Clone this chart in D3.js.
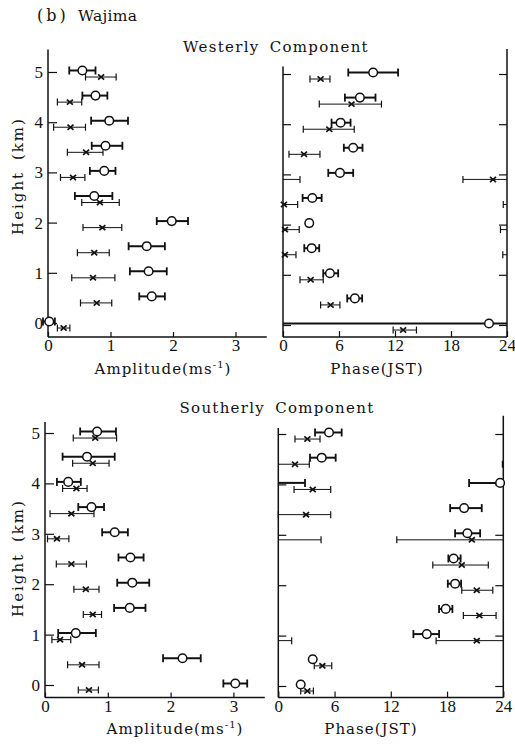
<!DOCTYPE html>
<html lang="en">
<head>
<meta charset="UTF-8">
<title>Wajima</title>
<script src="https://d3js.org/d3.v7.min.js"></script>
<style>
  body { margin: 0; background: #fff; }
  text { font-family: "DejaVu Serif", serif; fill: #111; }
</style>
</head>
<body>
<svg width="515" height="746"></svg>
<script>
// heights (km), same for every panel
const heights = [0, 0.5, 1, 1.5, 2, 2.5, 3, 3.5, 4, 4.5, 5];

// Westerly amplitude (m/s): circles and crosses, with error limits
const wAmpO   = [0.02, 1.66, 1.61, 1.58, 1.98, 0.74, 0.90, 0.92, 0.98, 0.76, 0.55];
const wAmpOLo = [-0.08, 1.46, 1.31, 1.29, 1.74, 0.43, 0.67, 0.70, 0.69, 0.55, 0.34];
const wAmpOHi = [0.11, 1.87, 1.90, 1.87, 2.24, 1.03, 1.08, 1.19, 1.28, 0.95, 0.76];
const wAmpX   = [0.25, 0.78, 0.72, 0.74, 0.87, 0.83, 0.40, 0.61, 0.36, 0.35, 0.85];
const wAmpXLo = [0.15, 0.52, 0.38, 0.47, 0.56, 0.54, 0.20, 0.31, 0.09, 0.15, 0.60];
const wAmpXHi = [0.35, 1.02, 1.07, 0.98, 1.18, 1.14, 0.59, 0.88, 0.60, 0.54, 1.09];

// Westerly phase (JST hours), limits may run past 0 or 24 and wrap
const wPhO   = [22.07, 7.7, 5.03, 3.07, 2.81, 3.14, 6.1, 7.52, 6.17, 8.24, 9.66];
const wPhOLo = [10, 6.88, 4.31, 2.28, 2.55, 2.1, 4.85, 6.52, 5.2, 6.63, 6.99];
const wPhOHi = [34, 8.48, 5.91, 3.88, 3.05, 4.14, 7.52, 8.52, 7.24, 9.91, 12.33];
const wPhX   = [12.87, 5.1, 2.96, 0.2, 0.21, 0.1, 22.5, 2.25, 4.96, 7.34, 4.03];
const wPhXLo = [11.8, 4.03, 1.82, -0.45, -0.7, -0.4, 19.28, 0.64, 2.17, 3.89, 2.89];
const wPhXHi = [14.3, 6.1, 4.31, 1.39, 1.74, 1.57, 25.82, 3.96, 7.63, 10.55, 5.03];

// Southerly amplitude
const sAmpO   = [3.03, 2.19, 0.49, 1.35, 1.39, 1.36, 1.11, 0.74, 0.37, 0.67, 0.83];
const sAmpOLo = [2.84, 1.88, 0.21, 1.10, 1.15, 1.17, 0.91, 0.53, 0.19, 0.28, 0.56];
const sAmpOHi = [3.22, 2.48, 0.81, 1.60, 1.66, 1.57, 1.32, 0.94, 0.57, 1.11, 1.13];
const sAmpX   = [0.70, 0.59, 0.24, 0.76, 0.65, 0.42, 0.19, 0.42, 0.50, 0.76, 0.80];
const sAmpXLo = [0.53, 0.36, 0.11, 0.61, 0.46, 0.18, 0.04, 0.08, 0.28, 0.44, 0.45];
const sAmpXHi = [0.85, 0.86, 0.41, 0.90, 0.86, 0.66, 0.38, 0.78, 0.67, 1.02, 1.14];

// Southerly phase
const sPhO   = [2.39, 3.67, 15.84, 17.86, 18.86, 18.7, 20.17, 19.82, 23.66, 4.63, 5.41];
const sPhOLo = [2.2, 3.45, 14.41, 17.15, 18.08, 18.14, 18.86, 18.33, 20.35, 3.38, 3.92];
const sPhOHi = [2.6, 3.9, 17.15, 18.57, 19.5, 19.45, 21.53, 21.7, 26.85, 6.12, 6.76];
const sPhX   = [3.1, 4.7, 21.17, 21.45, 21.17, 19.57, 20.64, 2.96, 3.67, 1.78, 3.1];
const sPhXLo = [2.39, 3.84, 16.83, 19.74, 19.57, 16.48, 12.64, 0.0, 1.68, -0.1, 1.78];
const sPhXHi = [3.74, 5.7, 25.43, 23.23, 22.88, 22.4, 28.56, 5.59, 5.59, 3.31, 4.45];

const ampTicks = [0, 1, 2, 3];
const phaseTicks = [0, 6, 12, 18, 24];
const heightTicks = [0, 1, 2, 3, 4, 5];

const svg = d3.select('svg');
const ink = '#111';
const digitFont = '"Liberation Serif", serif';

// layout of the four panels (pixels)
const rows = [
  { title: 'Westerly Component', titleX: 276, titleY: 52, y0: 323, y5: 72,
    amp: { left: 48, unit: 62.5, yTop: 5.45, yBot: -0.28, labelX: 163, o: [wAmpO, wAmpOLo, wAmpOHi], x: [wAmpX, wAmpXLo, wAmpXHi] },
    ph:  { left: 283, right: 507, topL: 5.15, topR: 5.5, yShift: 2, labelX: 377, o: [wPhO, wPhOLo, wPhOHi], x: [wPhX, wPhXLo, wPhXHi] },
    labelY: 374, heightLabelY: 176 },
  { title: 'Southerly Component', titleX: 277, titleY: 413, y0: 685, y5: 433,
    amp: { left: 45, unit: 62.8, yTop: 5.22, yBot: -0.25, labelX: 175, o: [sAmpO, sAmpOLo, sAmpOHi], x: [sAmpX, sAmpXLo, sAmpXHi] },
    ph:  { left: 278.3, right: 503.3, topL: 5.12, topR: 5.36, yShift: 1, labelX: 371, o: [sPhO, sPhOLo, sPhOHi], x: [sPhX, sPhXLo, sPhXHi] },
    labelY: 734, heightLabelY: 558 }
];

svg.append('text')
  .attr('x', 37).attr('y', 21)
  .attr('font-size', 16)
  .attr('letter-spacing', 3)
  .text('(b)');
svg.append('text')
  .attr('x', 78).attr('y', 21)
  .attr('font-size', 15.5)
  .attr('letter-spacing', 0.3)
  .text('Wajima');

// draw one series of markers with horizontal error bars
function drawSeries(g, x, y, vals, kind, wrap) {
  const [mean, lo, hi] = vals;
  const dy = kind === 'o' ? 0.03 : -0.1;
  const sw = kind === 'o' ? 2 : 1;
  const cap = kind === 'o' ? 4 : 3.5;
  heights.forEach((h, i) => {
    const yy = y(h + dy);
    let segs = [], caps = [lo[i], hi[i]];
    if (!wrap) {
      segs.push([lo[i], hi[i]]);
    } else if (hi[i] - lo[i] >= 24) {
      segs.push([0, 24]); caps = [];
    } else {
      let a = lo[i], b = hi[i];
      if (a < 0) { segs.push([a + 24, 24]); segs.push([0, b]); caps = [a + 24, b]; }
      else if (b > 24) { segs.push([a, 24]); segs.push([0, b - 24]); caps = [a, b - 24]; }
      else segs.push([a, b]);
    }
    segs.forEach(s => {
      g.append('line')
        .attr('x1', x(s[0])).attr('x2', x(s[1]))
        .attr('y1', yy).attr('y2', yy)
        .attr('stroke', ink).attr('stroke-width', sw);
    });
    caps.forEach(c => {
      g.append('line')
        .attr('x1', x(c)).attr('x2', x(c))
        .attr('y1', yy - cap).attr('y2', yy + cap)
        .attr('stroke', ink).attr('stroke-width', sw === 2 ? 1.8 : 1.2);
    });
    if (kind === 'o') {
      g.append('circle')
        .attr('cx', x(mean[i])).attr('cy', yy).attr('r', 4.3)
        .attr('fill', '#fff').attr('stroke', ink).attr('stroke-width', 1.5);
    } else {
      g.append('path')
        .attr('transform', `translate(${x(mean[i])},${yy})`)
        .attr('d', 'M-3,-2.6L3,2.6M-3,2.6L3,-2.6')
        .attr('stroke', ink).attr('stroke-width', 1.7);
    }
  });
}

function styleAxis(sel) {
  sel.select('.domain').remove();
  sel.selectAll('.tick line').attr('stroke', ink).attr('stroke-width', 1.2);
  sel.selectAll('.tick text').attr('font-size', 17).attr('fill', ink)
    .style('font-family', digitFont);
}

rows.forEach(r => {
  const y = d3.scaleLinear().domain([0, 5]).range([r.y0, r.y5]);
  const bottomY = y(r.amp.yBot);

  svg.append('text')
    .attr('x', r.titleX).attr('y', r.titleY)
    .attr('text-anchor', 'middle')
    .attr('font-size', 15)
    .attr('letter-spacing', 1.3)
    .attr('word-spacing', 4)
    .text(r.title);

  svg.append('text')
    .attr('transform', `translate(23,${r.heightLabelY}) rotate(-90)`)
    .attr('text-anchor', 'middle')
    .attr('font-size', 15)
    .attr('letter-spacing', 2)
    .attr('word-spacing', 4)
    .text('Height (km)');

  // amplitude panel
  const a = r.amp;
  const xa = d3.scaleLinear().domain([0, 3.5]).range([a.left, a.left + a.unit * 3.5]);
  const ga = svg.append('g');
  ga.append('line').attr('x1', xa(0)).attr('x2', xa(0))
    .attr('y1', y(a.yTop)).attr('y2', bottomY)
    .attr('stroke', ink).attr('stroke-width', 1.5);
  ga.append('line').attr('x1', xa(0)).attr('x2', xa(3.5))
    .attr('y1', bottomY).attr('y2', bottomY)
    .attr('stroke', ink).attr('stroke-width', 1.5);
  ga.append('g').attr('transform', `translate(${xa(0)},0)`)
    .call(d3.axisLeft(y).tickValues(heightTicks).tickSize(-9).tickPadding(5).tickFormat(d3.format('d')))
    .call(styleAxis);
  ga.append('g').attr('transform', `translate(0,${bottomY})`)
    .call(d3.axisBottom(xa).tickValues(ampTicks).tickSize(-5).tickPadding(2).tickFormat(d3.format('d')))
    .call(styleAxis);
  drawSeries(ga, xa, y, a.x, 'x', false);
  drawSeries(ga, xa, y, a.o, 'o', false);
  const at = ga.append('text')
    .attr('x', a.labelX).attr('y', r.labelY)
    .attr('text-anchor', 'middle')
    .attr('font-size', 15)
    .attr('letter-spacing', 1);
  at.append('tspan').text('Amplitude(ms');
  at.append('tspan').attr('font-size', 10).attr('dy', -6).text('-1');
  at.append('tspan').attr('dy', 6).text(')');

  // phase panel
  const p = r.ph;
  const yp = y.copy().range([r.y0 + p.yShift, r.y5 + p.yShift]);
  const xp = d3.scaleLinear().domain([0, 24]).range([p.left, p.right]);
  const gp = svg.append('g');
  gp.append('line').attr('x1', xp(0)).attr('x2', xp(0))
    .attr('y1', yp(p.topL)).attr('y2', bottomY)
    .attr('stroke', ink).attr('stroke-width', 1.5);
  gp.append('line').attr('x1', xp(24)).attr('x2', xp(24))
    .attr('y1', yp(p.topR)).attr('y2', bottomY)
    .attr('stroke', ink).attr('stroke-width', 1.5);
  gp.append('line').attr('x1', xp(0)).attr('x2', xp(24))
    .attr('y1', bottomY).attr('y2', bottomY)
    .attr('stroke', ink).attr('stroke-width', 1.5);
  gp.append('g').attr('transform', `translate(${xp(0)},0)`)
    .call(d3.axisLeft(yp).tickValues(heightTicks).tickSize(-8).tickFormat(''))
    .call(styleAxis);
  gp.append('g').attr('transform', `translate(${xp(24)},0)`)
    .call(d3.axisRight(yp).tickValues(heightTicks).tickSize(-8).tickFormat(''))
    .call(styleAxis);
  gp.append('g').attr('transform', `translate(0,${bottomY})`)
    .call(d3.axisBottom(xp).tickValues(phaseTicks).tickSize(-6).tickPadding(2).tickFormat(d3.format('d')))
    .call(styleAxis);
  drawSeries(gp, xp, yp, p.x, 'x', true);
  drawSeries(gp, xp, yp, p.o, 'o', true);
  gp.append('text')
    .attr('x', p.labelX).attr('y', r.labelY)
    .attr('text-anchor', 'middle')
    .attr('font-size', 15)
    .attr('letter-spacing', 1)
    .text('Phase(JST)');
});
</script>
</body>
</html>
